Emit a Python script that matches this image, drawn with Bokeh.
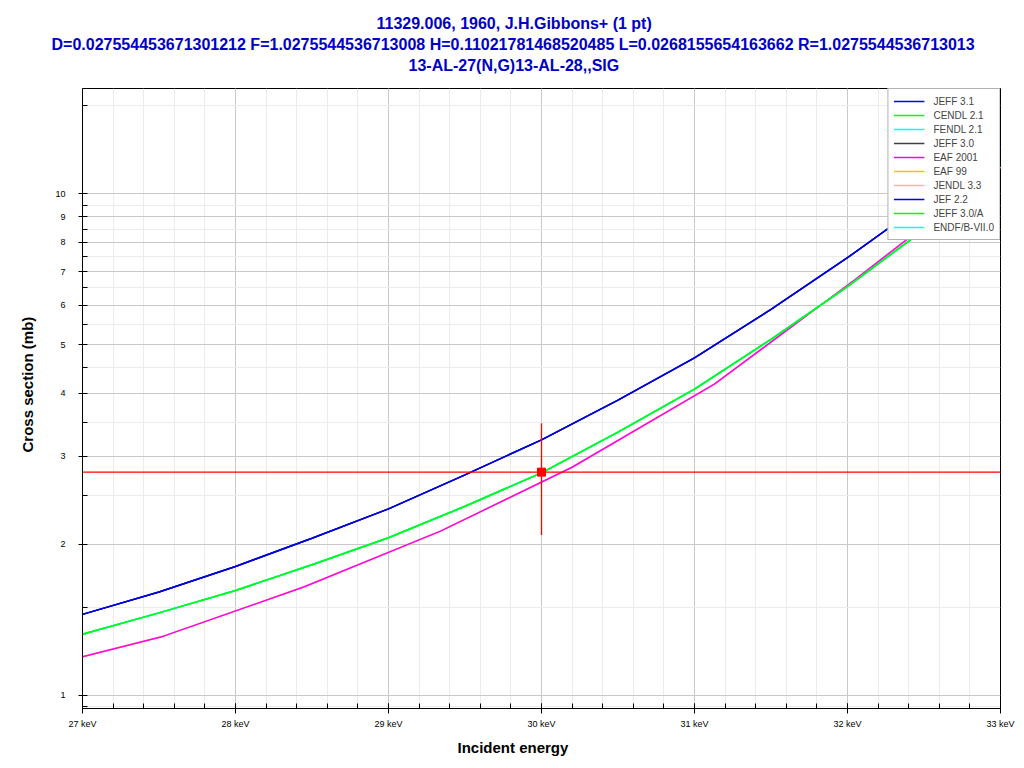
from bokeh.plotting import figure
from bokeh.models import (FixedTicker, CustomJSTickFormatter, Legend, LegendItem,
                          Title, Range1d, ColumnDataSource)
from bokeh.embed import file_html
from bokeh.resources import INLINE

# ---------------- data ----------------
energy = [27.0, 27.5, 28.0, 28.5, 29.0, 29.5, 30.0, 30.5, 31.0, 31.5, 32.0, 32.5, 33.0]
jeff31 = [1.451, 1.608, 1.808, 2.058, 2.355, 2.753, 3.233, 3.879, 4.712, 5.885, 7.46, 9.6, 12.4]
cendl21 = [1.324, 1.461, 1.619, 1.823, 2.063, 2.383, 2.778, 3.351, 4.079, 5.13, 6.535, 8.48, 11.3]

eaf_energy = [27.0, 27.53, 28.45, 29.34, 30.2, 31.13, 32.05, 32.95, 33.0]
eaf2001 = [1.195, 1.313, 1.647, 2.126, 2.851, 4.174, 6.75, 11.0, 11.3]

exp_e = [30.0]
exp_sig = [2.788]
exp_dsig = [0.70]
exp_de = [5.0]

x_ticks = [27, 28, 29, 30, 31, 32, 33]
x_minor = [round(27 + 0.2 * i, 1) for i in range(31)]
y_ticks = [1, 2, 3, 4, 5, 6, 7, 8, 9, 10]
y_minor = [0.95, 1.5, 2.5, 3.5, 4.5, 5.5, 6.5, 7.5, 8.5, 9.5, 15]

title_lines = [
    "11329.006, 1960, J.H.Gibbons+ (1 pt)",
    "D=0.027554453671301212 F=1.0275544536713008 H=0.11021781468520485 L=0.0268155654163662 R=1.0275544536713013",
    "13-AL-27(N,G)13-AL-28,,SIG",
]
x_label = "Incident energy"
y_label = "Cross section (mb)"

# ---------------- figure ----------------
W, H = 1016, 760
FL, FR, FT, FB = 81, 1000, 88, 710   # frame edges in page pixels
p = figure(width=W, height=H, output_backend="svg", toolbar_location=None,
           y_axis_type="log",
           x_range=Range1d(27, 33), y_range=Range1d(0.942, 16.22),
           min_border_left=FL, min_border_right=W - FR,
           min_border_top=FT, min_border_bottom=H - FB)
p.background_fill_color = "white"
p.border_fill_color = "white"
p.outline_line_color = "black"
p.outline_line_width = 1

# axes
p.xaxis.ticker = FixedTicker(ticks=x_ticks, minor_ticks=x_minor)
p.yaxis.ticker = FixedTicker(ticks=y_ticks, minor_ticks=y_minor)
p.xaxis.formatter = CustomJSTickFormatter(code="return tick + ' keV';")
p.yaxis.formatter = CustomJSTickFormatter(code="return tick.toString();")
for ax in (p.xaxis, p.yaxis):
    ax.axis_line_color = "black"
    ax.major_tick_line_color = "black"
    ax.minor_tick_line_color = "black"
    ax.major_label_text_font = "Liberation Sans"
    ax.major_label_text_font_size = "9px"
    ax.major_label_text_color = "black"
    ax.major_tick_in = 5
    ax.minor_tick_in = 5
    ax.minor_tick_out = 0
p.xaxis.major_tick_out = 5
p.yaxis.major_tick_out = 4
p.xaxis.major_label_standoff = 5
p.yaxis.major_label_standoff = 13

p.xgrid.ticker = p.xaxis.ticker
p.ygrid.ticker = p.yaxis.ticker
for g in (p.xgrid, p.ygrid):
    g.grid_line_color = "#c8c8c8"
    g.grid_line_width = 1
    g.minor_grid_line_color = "#ececec"
    g.minor_grid_line_width = 1

# ---------------- curves ----------------
lw = 1.5
r_jendl = p.line(energy, cendl21, color="#ffb0b0", line_width=lw)
r_eaf99 = p.line(eaf_energy, eaf2001, color="#ffc000", line_width=lw)
r_jeff30 = p.line(energy, jeff31, color="#404040", line_width=lw)
r_jeff31 = p.line(energy, jeff31, color="#0000ff", line_width=lw)
r_cendl = p.line(energy, cendl21, color="#00ff00", line_width=lw)
r_fendl = p.line(energy, cendl21, color="#00ffff", line_width=lw)
r_eaf01 = p.line(eaf_energy, eaf2001, color="#ff00ff", line_width=lw)
r_jef22 = p.line(energy, jeff31, color="#0000e0", line_width=lw)
r_endf = p.line(energy, cendl21, color="#00ffff", line_width=lw)
r_jeff30a = p.line(energy, cendl21, color="#00ff00", line_width=lw)

# ---------------- experimental point ----------------
src = ColumnDataSource(dict(
    x=exp_e, y=exp_sig,
    x0=[e - d for e, d in zip(exp_e, exp_de)], x1=[e + d for e, d in zip(exp_e, exp_de)],
    y0=[s - d for s, d in zip(exp_sig, exp_dsig)], y1=[s + d for s, d in zip(exp_sig, exp_dsig)],
))
p.segment(x0="x0", y0="y", x1="x1", y1="y", source=src, color="red", line_width=1.3)
p.segment(x0="x", y0="y0", x1="x", y1="y1", source=src, color="red", line_width=1.3)
p.scatter(x="x", y="y", source=src, marker="square", size=8, color="red")

# ---------------- legend ----------------
items = [
    LegendItem(label="JEFF 3.1", renderers=[r_jeff31]),
    LegendItem(label="CENDL 2.1", renderers=[r_cendl]),
    LegendItem(label="FENDL 2.1", renderers=[r_fendl]),
    LegendItem(label="JEFF 3.0", renderers=[r_jeff30]),
    LegendItem(label="EAF 2001", renderers=[r_eaf01]),
    LegendItem(label="EAF 99", renderers=[r_eaf99]),
    LegendItem(label="JENDL 3.3", renderers=[r_jendl]),
    LegendItem(label="JEF 2.2", renderers=[r_jef22]),
    LegendItem(label="JEFF 3.0/A", renderers=[r_jeff30a]),
    LegendItem(label="ENDF/B-VII.0", renderers=[r_endf]),
]
leg = Legend(items=items, location="top_right", margin=0, padding=5, spacing=0,
             glyph_width=31, glyph_height=14, label_height=14, label_standoff=9,
             label_text_font="Liberation Sans", label_text_font_size="10px",
             border_line_color="#646464", border_line_width=1,
             background_fill_color="white", background_fill_alpha=1.0)
p.add_layout(leg, "center")

# ---------------- blank spacer between frame and titles ----------------
p.add_layout(Title(text=" ", standoff=10.5, text_font_size="1px"), "above")

# ---------------- titles (outermost added last) ----------------
standoffs = [2, 2, 2]
offsets = [294, -31, 326]
for t, so, off in reversed(list(zip(title_lines, standoffs, offsets))):
    p.add_layout(Title(text=t, align="left", offset=off, standoff=so,
                       text_font="Liberation Sans", text_font_size="16px",
                       text_font_style="bold", text_color="#0000c8"), "above")

p.add_layout(Title(text=x_label, align="left", offset=375, standoff=10,
                   text_font="Liberation Sans", text_font_size="15px",
                   text_font_style="bold", text_color="black"), "below")
p.add_layout(Title(text=y_label, align="left", offset=256, standoff=33,
                   text_font="Liberation Sans", text_font_size="15px",
                   text_font_style="bold", text_color="black"), "left")

open("out.html", "w").write(file_html(p, INLINE))
